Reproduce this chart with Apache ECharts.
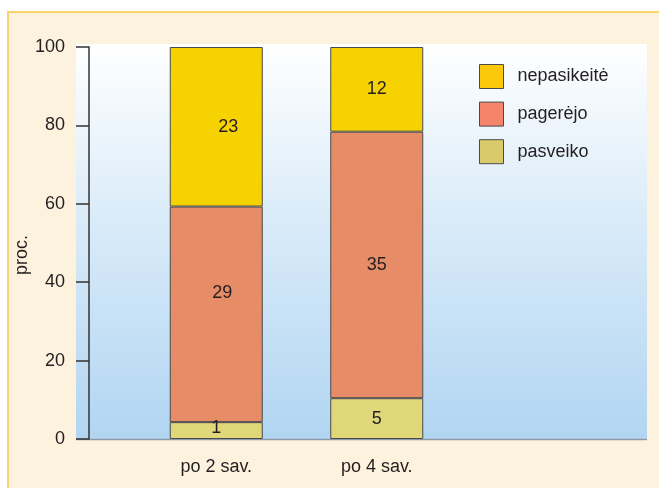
<!DOCTYPE html>
<html>
<head>
<meta charset="utf-8">
<script src="https://cdn.jsdelivr.net/npm/echarts@6/dist/echarts.min.js"></script>
<style>
  html, body { margin: 0; padding: 0; background: #fff; }
  #chart { width: 659px; height: 488px; }
</style>
</head>
<body>
<div id="chart"></div>
<script>
// categories and values
const categories = ['po 2 sav.', 'po 4 sav.'];
// bar heights in percent
const pasveikoPct = [4.3, 10.4];
const pagerejoPct = [55.0, 68.0];
const nepasikeitePct = [40.7, 21.6];
// counts written inside the bars
const pasveikoN = [1, 5];
const pagerejoN = [29, 35];
const nepasikeiteN = [23, 12];

const font = "'Liberation Sans', Arial, sans-serif";
const textColor = '#231f20';

const myChart = echarts.init(document.getElementById('chart'));

function barSeries(name, values, counts, color, offsets) {
    return {
        name: name,
        type: 'bar',
        stack: 'total',
        barWidth: 93,
        data: values.map((v, i) => {
            const item = { value: v };
            if (offsets && offsets[i]) item.label = { offset: offsets[i] };
            return item;
        }),
        itemStyle: { color: color, borderColor: '#4a4a4a', borderWidth: 1 },
        label: {
            show: true,
            position: 'inside',
            fontFamily: font,
            fontSize: 18,
            color: textColor,
            formatter: p => counts[p.dataIndex]
        }
    };
}

const option = {
    animation: false,
    graphic: [
        { type: 'rect', z: -10, shape: { x: 8, y: 12, width: 660, height: 490 },
          style: { fill: '#fdf2de', stroke: '#f8d46a', lineWidth: 2 } },
        { type: 'rect', z: -9, shape: { x: 76, y: 44, width: 571, height: 396 },
          style: { fill: new echarts.graphic.LinearGradient(0, 0, 0, 1, [
              { offset: 0, color: '#ffffff' },
              { offset: 0.4, color: '#ddedf9' },
              { offset: 1, color: '#b1d5f2' }
          ]) } },
        { type: 'line', z: -8, shape: { x1: 76, y1: 439.5, x2: 647, y2: 439.5 },
          style: { stroke: '#8d9aa5', lineWidth: 1.5 } }
    ],
    grid: { left: 136, width: 321, top: 47, bottom: 49 },
    legend: {
        orient: 'vertical',
        left: 474,
        top: 59,
        itemWidth: 24,
        itemHeight: 24,
        itemGap: 12.6,
        icon: 'rect',
        textStyle: { fontFamily: font, fontSize: 18, color: textColor, padding: [0, 0, 0, 9] },
        data: [
            { name: 'nepasikeitė', itemStyle: { color: '#fcc80a', borderColor: '#4a4a4a', borderWidth: 1 } },
            { name: 'pagerėjo', itemStyle: { color: '#f4846a', borderColor: '#4a4a4a', borderWidth: 1 } },
            { name: 'pasveiko', itemStyle: { color: '#d9cb6c', borderColor: '#4a4a4a', borderWidth: 1 } }
        ]
    },
    xAxis: {
        type: 'category',
        data: categories,
        axisLine: { show: false },
        axisTick: { show: false },
        axisLabel: { fontFamily: font, fontSize: 18, color: textColor, margin: 19 }
    },
    yAxis: {
        type: 'value',
        min: 0,
        max: 100,
        interval: 20,
        offset: 47,
        name: 'proc.',
        nameLocation: 'middle',
        nameGap: 56,
        nameRotate: 90,
        nameTextStyle: { fontFamily: font, fontSize: 18, color: textColor, padding: [0, 24, 0, 0] },
        axisLine: { show: true, lineStyle: { color: '#333', width: 1.5 } },
        axisTick: { show: true, length: 13, lineStyle: { color: '#333', width: 1.5 } },
        axisLabel: { fontFamily: font, fontSize: 18, color: textColor, margin: 24 },
        splitLine: { show: false }
    },
    series: [
        barSeries('pasveiko', pasveikoPct, pasveikoN, '#e0d67a', [[0, -3]]),
        barSeries('pagerėjo', pagerejoPct, pagerejoN, '#e68c66', [[6, -21]]),
        barSeries('nepasikeitė', nepasikeitePct, nepasikeiteN, '#f6d200', [[12, 0]])
    ]
};

myChart.setOption(option);
</script>
</body>
</html>
